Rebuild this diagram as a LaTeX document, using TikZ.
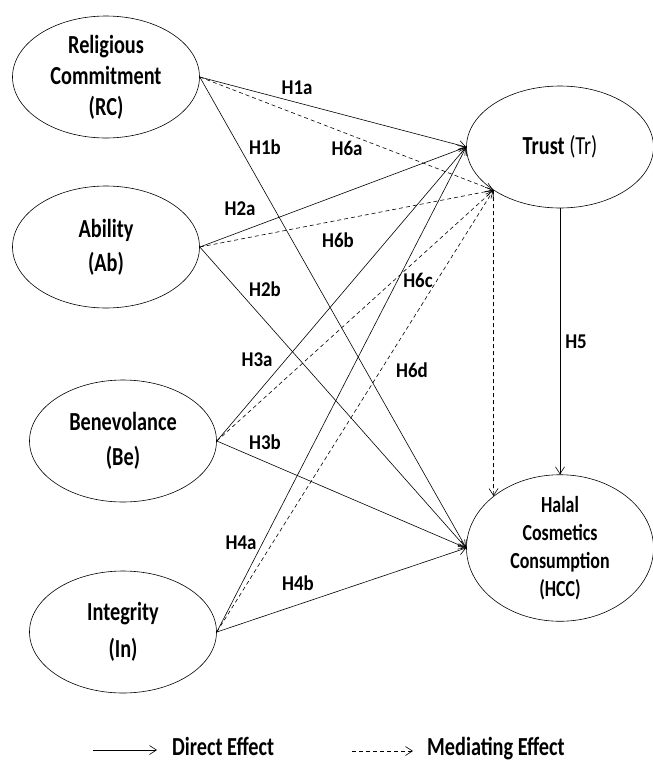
\documentclass[tikz,border=0pt]{standalone}
\usepackage{fontspec}
\setmainfont{Carlito}
\newfontfamily\ovalfont[FakeStretch=0.78]{Carlito}
\newfontfamily\hypfont[FakeStretch=0.9]{Carlito}
\usetikzlibrary{shapes.geometric,arrows.meta}
\tikzset{
  construct/.style={draw, ellipse, line width=0.6pt, inner sep=0pt, minimum width=187pt, minimum height=122pt, align=center, font=\ovalfont\bfseries\fontsize{26}{31}\selectfont},
  hyp/.style={font=\hypfont\bfseries\fontsize{21}{26}\selectfont, inner sep=0pt},
  legendtext/.style={font=\ovalfont\bfseries\fontsize{26}{30}\selectfont, inner sep=0pt, anchor=base west},
  direct/.style={line width=0.6pt, -{Straight Barb[length=7pt,width=9pt]}},
  mediate/.style={line width=0.6pt, dash pattern=on 4pt off 3pt, -{Straight Barb[length=7pt,width=9pt]}}
}

\begin{document}
\begin{tikzpicture}[x=1pt,y=-1pt]
\useasboundingbox (0,0) rectangle (653,761);

\node [construct] (RC) at (106,77) {Religious\\Commitment\\(RC)};
\node [construct] (Ab) at (106,247) {Ability\\[3pt](Ab)};
\node [construct] (Be) at (123,441) {Benevolance\\[4pt](Be)};
\node [construct] (In) at (123,632) {Integrity\\[6pt](In)};
\node [construct] (Tr) at (560,147) {Trust {\mdseries(Tr)}};
\node [construct, minimum height=132pt, font=\ovalfont\bfseries\fontsize{23}{28}\selectfont] (HCC) at (560,548) {Halal\\Cosmetics\\Consumption\\(HCC)};

% direct effects on trust
\draw [direct] (RC.east) -- (Tr.west);
\draw [direct] (Ab.east) -- (Tr.west);
\draw [direct] (Be.east) -- (Tr.west);
\draw [direct] (In.east) -- (Tr.west);

% direct effects on consumption
\draw [direct] (RC.east) -- (HCC.west);
\draw [direct] (Ab.east) -- (HCC.west);
\draw [direct] (Be.east) -- (HCC.west);
\draw [direct] (In.east) -- (HCC.west);
\draw [direct] (Tr.south) -- (HCC.north);

% mediating effects
\draw [mediate] (RC.east) -- (Tr.213);
\draw [mediate] (Ab.east) -- (Tr.213);
\draw [mediate] (Be.east) -- (Tr.213);
\draw [mediate] (In.east) -- (Tr.213);
\draw [mediate] (Tr.213) -- (HCC.142);

\node [hyp] (h1a) at (297,88) {H1a};
\node [hyp] (h1b) at (265,147) {H1b};
\node [hyp] (h2a) at (240,209) {H2a};
\node [hyp] (h2b) at (265,289) {H2b};
\node [hyp] (h3a) at (257,360) {H3a};
\node [hyp] (h3b) at (265,442) {H3b};
\node [hyp] (h4a) at (241,543) {H4a};
\node [hyp] (h4b) at (298,583) {H4b};
\node [hyp] (h5) at (576,342) {H5};
\node [hyp] (h6a) at (347,148) {H6a};
\node [hyp] (h6b) at (338,240) {H6b};
\node [hyp] (h6c) at (418,280) {H6c};
\node [hyp] (h6d) at (412,370) {H6d};

% legend
\node [legendtext] (ld) at (172,755) {Direct Effect};
\node [legendtext] (lm) at (427,755) {Mediating Effect};
\coordinate (ds) at (93,750);
\coordinate (ms) at (352,751);
\draw [direct] (ds) -- (157,750);
\draw [mediate] (ms) -- (413,751);

\end{tikzpicture}
\end{document}
